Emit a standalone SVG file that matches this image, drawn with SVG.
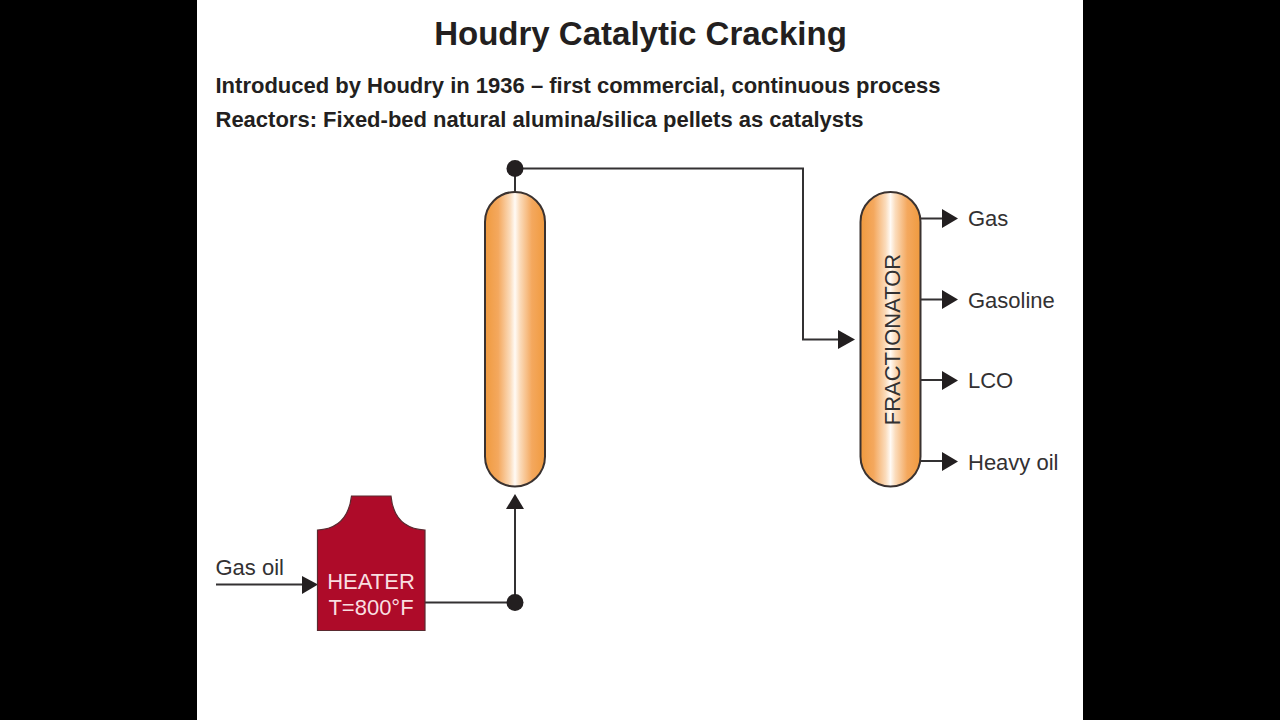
<svg xmlns="http://www.w3.org/2000/svg" width="1280" height="720" viewBox="0 0 1280 720">
<style>
text{font-family:"Liberation Sans",Arial,sans-serif;fill:#333132}
.h{font-weight:bold;font-size:22px;fill:#231f20}
.l{font-size:22px}
.w{font-size:22px;fill:#f9dfe0;text-anchor:middle}
.c{fill:none;stroke:#333132;stroke-width:2}
.a{fill:#231f20}
.v{fill:url(#g);stroke:#3a3230;stroke-width:2}
</style>
<defs>
<linearGradient id="g" x1="0" y1="0" x2="1" y2="0">
<stop offset="0" stop-color="#f09a3e"/><stop offset=".22" stop-color="#f4a85e"/><stop offset=".42" stop-color="#fbdcbc"/><stop offset=".5" stop-color="#fffaf5"/><stop offset=".58" stop-color="#fbdcbc"/><stop offset=".78" stop-color="#f4a85e"/><stop offset="1" stop-color="#f09a3e"/>
</linearGradient>
</defs>
<rect width="1280" height="720" fill="#000"/>
<rect x="197" width="886" height="720" fill="#fff"/>
<text x="640.500" y="45" text-anchor="middle" font-size="33" font-weight="bold" style="fill:#231f20">Houdry Catalytic Cracking</text>
<text class="h" x="215.500" y="93">Introduced by Houdry in 1936 – first commercial, continuous process</text>
<text class="h" x="215.500" y="127">Reactors: Fixed-bed natural alumina/silica pellets as catalysts</text>
<g id="connectors">
<path class="c" d="M216 584.500H304"/>
<path class="a" d="M302 576L318 584.500L302 594Z"/>
<path class="c" d="M425 602.500H515V506"/>
<path class="a" d="M506 509L515 494L524 509Z"/>
<circle class="a" cx="515" cy="602.500" r="8.500"/>
<path class="c" d="M515 192V168.500H803V339.500H842"/>
<path class="a" d="M838 330L855 339.500L838 349Z"/>
<circle class="a" cx="515" cy="168.500" r="8.500"/>
<path class="c" d="M920 218.500H945M920 299.500H945M920 380H945M920 461H945"/>
<path class="a" d="M942 209L958 218.500L942 228ZM942 290L958 299.500L942 309ZM942 371L958 380.500L942 390ZM942 452L958 461.500L942 471Z"/>
</g>
<g id="heater">
<path d="M317.500 530V630.500H425V530C404 529 393 517 391 496H351.500C349 517 338 529 317.500 530Z" fill="#ae0b29" stroke="#5a2a30" stroke-width="1.200"/>
<text class="w" x="371" y="589">HEATER</text>
<text class="w" x="371" y="615">T=800°F</text>
</g>
<g id="reactor"><rect class="v" x="485" y="192" width="60" height="294.500" rx="30" ry="30"/></g>
<g id="fractionator">
<rect class="v" x="860.500" y="192" width="60" height="294.500" rx="30" ry="30"/>
<text class="l" transform="translate(900 339.500) rotate(-90)" text-anchor="middle">FRACTIONATOR</text>
</g>
<g id="labels">
<text class="l" x="215.500" y="575">Gas oil</text>
<text class="l" x="968" y="226">Gas</text>
<text class="l" x="968" y="308">Gasoline</text>
<text class="l" x="968" y="388">LCO</text>
<text class="l" x="968" y="470">Heavy oil</text>
</g>
</svg>
